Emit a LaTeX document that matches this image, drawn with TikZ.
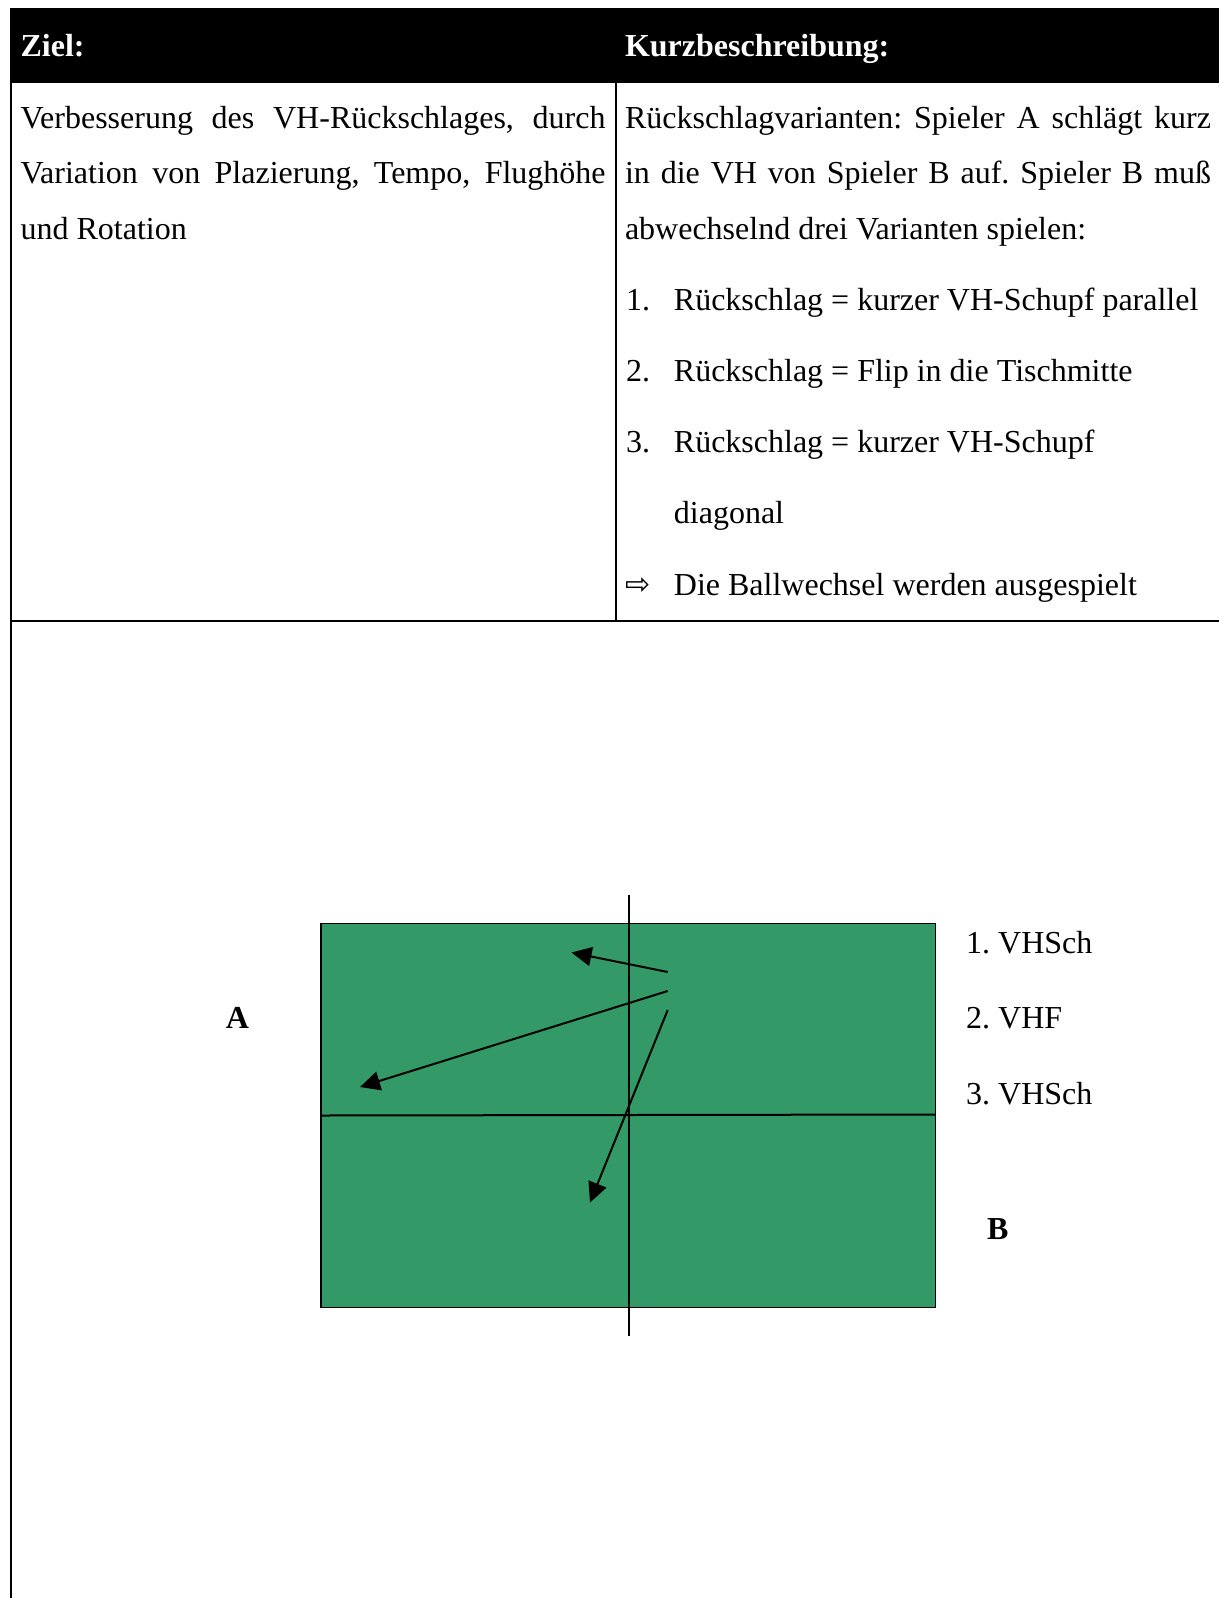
\documentclass[tikz,border=0pt]{standalone}
\usepackage{fontspec}
\setmainfont{Liberation Serif}
\newfontfamily\symfont{DejaVu Sans}
\usetikzlibrary{arrows.meta}
\frenchspacing
\begin{document}
\begin{tikzpicture}[x=1pt,y=-1pt,
  txt/.style={font=\fontsize{32}{38}\selectfont, inner sep=0pt, anchor=base west},
  hdr/.style={txt, font=\fontsize{32}{38}\selectfont\bfseries, text=white},
  rule/.style={line width=2pt},
  ball/.style={line width=2pt, -{Triangle[length=20pt,width=19pt]}},
  lbl/.style={txt, font=\fontsize{32}{38}\selectfont\bfseries, anchor=base}]
\useasboundingbox (0,0) rectangle (1219,1598);
% header
\fill[black] (10,8) rectangle (1219,83);
\node[hdr] (ziel) at (20.4,56) {Ziel:};
\node[hdr] (kurz) at (624.8,56) {Kurzbeschreibung:};
% table lines
\draw[rule] (11,83) -- (11,1598);
\draw[rule] (615.6,83) -- (615.6,620.7);
\draw[rule] (11,620.7) -- (1219,620.7);
% left column
\node[txt] (l1) at (20.4,128) {\makebox[585pt][s]{Verbesserung des VH-Rückschlages, durch}};
\node[txt] (l2) at (20.4,183) {\makebox[585pt][s]{Variation von Plazierung, Tempo, Flughöhe}};
\node[txt] (l3) at (20.4,239) {und Rotation};
% right column
\node[txt] (r1) at (624.8,128) {\makebox[586pt][s]{Rückschlagvarianten: Spieler A schlägt kurz}};
\node[txt] (r2) at (624.8,183) {\makebox[586pt][s]{in die VH von Spieler B auf. Spieler B muß}};
\node[txt] (r3) at (624.8,239) {abwechselnd drei Varianten spielen:};
\node[txt] (n1) at (625.8,310) {1.};
\node[txt] (t1) at (673.7,310) {Rückschlag = kurzer VH-Schupf parallel};
\node[txt] (n2) at (625.8,381) {2.};
\node[txt] (t2) at (673.7,381) {Rückschlag = Flip in die Tischmitte};
\node[txt] (n3) at (625.8,452) {3.};
\node[txt] (t3) at (673.7,452) {Rückschlag = kurzer VH-Schupf};
\node[txt] (t3b) at (673.7,523) {diagonal};
\node[txt, font=\fontsize{30}{34}\symfont] (arr) at (625,594) {⇨};
\node[txt] (t4) at (673.7,595) {Die Ballwechsel werden ausgespielt};
% table tennis table
\draw[line width=1.5pt, fill={rgb,255:red,51;green,153;blue,102}] (321,923.4) rectangle (935.6,1307.6);
\draw[rule] (321,1115.5) -- (935.6,1114.5);
\draw[rule] (629,895) -- (629,1336);
% arrows
\coordinate (s1) at (667.7,972);
\coordinate (s2) at (667.7,991);
\coordinate (s3) at (667.7,1010);
\coordinate (e1) at (571.5,952.5);
\coordinate (e2) at (360,1087);
\coordinate (e3) at (590,1202.5);
\draw[ball] (s1) -- (e1);
\draw[ball] (s2) -- (e2);
\draw[ball] (s3) -- (e3);
% labels
\node[txt] (v1) at (966,953) {1. VHSch};
\node[txt] (v2) at (966,1028) {2. VHF};
\node[txt] (v3) at (966,1104) {3. VHSch};
\node[lbl] (pa) at (237.5,1028) {A};
\node[lbl] (pb) at (997.8,1239) {B};
\end{tikzpicture}
\end{document}
